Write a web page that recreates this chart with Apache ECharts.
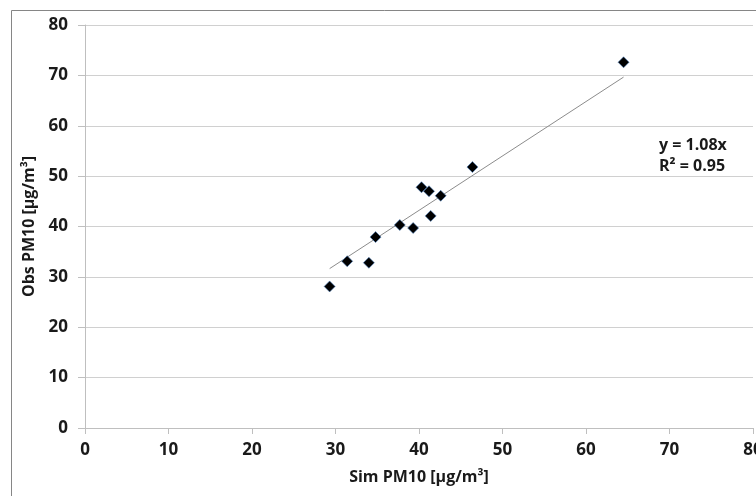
<!DOCTYPE html>
<html>
<head>
<meta charset="utf-8">
<script src="https://cdn.jsdelivr.net/npm/echarts@6/dist/echarts.min.js"></script>
<style>
html,body{margin:0;padding:0;background:#fff;}
#chart{width:756px;height:496px;}
</style>
</head>
<body>
<div id="chart"></div>
<script>
// Data
var simPM10 = [64.5, 46.4, 40.3, 41.2, 42.6, 41.4, 37.7, 39.3, 34.8, 31.4, 34.0, 29.3];
var obsPM10 = [72.6, 51.8, 47.8, 47.0, 46.1, 42.1, 40.3, 39.7, 37.9, 33.1, 32.8, 28.1];
var trendSlope = 1.08;
var rSquared = 0.95;
var xTicks = [0, 10, 20, 30, 40, 50, 60, 70, 80];
var yTicks = [0, 10, 20, 30, 40, 50, 60, 70, 80];

var points = simPM10.map(function (x, i) { return [x, obsPM10[i]]; });
var xMin = Math.min.apply(null, simPM10);
var xMax = Math.max.apply(null, simPM10);
var trend = [[xMin, trendSlope * xMin], [xMax, trendSlope * xMax]];

var FONT = '"Open Sans"';
var chart = echarts.init(document.getElementById('chart'), null, { renderer: 'canvas' });
chart.setOption({
  backgroundColor: '#ffffff',
  animation: false,
  grid: { left: 85, right: 3, top: 25, bottom: 68, containLabel: false, outerBoundsMode: 'none' },
  graphic: [
    { type: 'rect', left: 9, top: 8, silent: true,
      shape: { x: 0, y: 0, width: 800, height: 600 },
      style: { fill: 'none', stroke: '#868686', lineWidth: 1 } },
    { type: 'text', left: 659, top: 135, silent: true,
      style: { text: 'y = ' + trendSlope.toFixed(2) + 'x\nR² = ' + rSquared.toFixed(2),
        font: 'bold 16px ' + FONT, fill: '#1a1a1a', lineHeight: 21, textAlign: 'left' } }
  ],
  xAxis: {
    type: 'value', min: xTicks[0], max: xTicks[xTicks.length - 1], interval: 10,
    name: 'Sim PM10 [µg/m³]', nameLocation: 'middle', nameGap: 41,
    nameTextStyle: { fontFamily: FONT, fontWeight: 'bold', fontSize: 16, color: '#1a1a1a' },
    axisLine: { show: true, lineStyle: { color: '#bfbfbf', width: 1 } },
    axisTick: { show: true, length: 6, lineStyle: { color: '#bfbfbf' } },
    axisLabel: { fontFamily: FONT, fontWeight: 'bold', fontSize: 17, color: '#1a1a1a', margin: 14 },
    splitLine: { show: false }
  },
  yAxis: {
    type: 'value', min: yTicks[0], max: yTicks[yTicks.length - 1], interval: 10,
    name: 'Obs PM10 [µg/m³]', nameLocation: 'middle', nameGap: 41, nameRotate: 90,
    nameTextStyle: { fontFamily: FONT, fontWeight: 'bold', fontSize: 16, color: '#1a1a1a' },
    axisLine: { show: true, lineStyle: { color: '#bfbfbf', width: 1 } },
    axisTick: { show: true, length: 7, lineStyle: { color: '#bfbfbf' } },
    axisLabel: { fontFamily: FONT, fontWeight: 'bold', fontSize: 17, color: '#1a1a1a', margin: 17 },
    splitLine: { show: true, lineStyle: { color: '#d0d0d0', width: 1 } }
  },
  series: [
    {
      type: 'line', data: trend, showSymbol: false, symbol: 'none',
      lineStyle: { color: '#8c8c8c', width: 1 }, silent: true, z: 2
    },
    {
      type: 'scatter', data: points, symbol: 'diamond', symbolSize: 11,
      itemStyle: { color: '#000000', borderColor: '#4f81bd', borderWidth: 0.6, opacity: 1 }, z: 3
    }
  ]
});
</script>
</body>
</html>
